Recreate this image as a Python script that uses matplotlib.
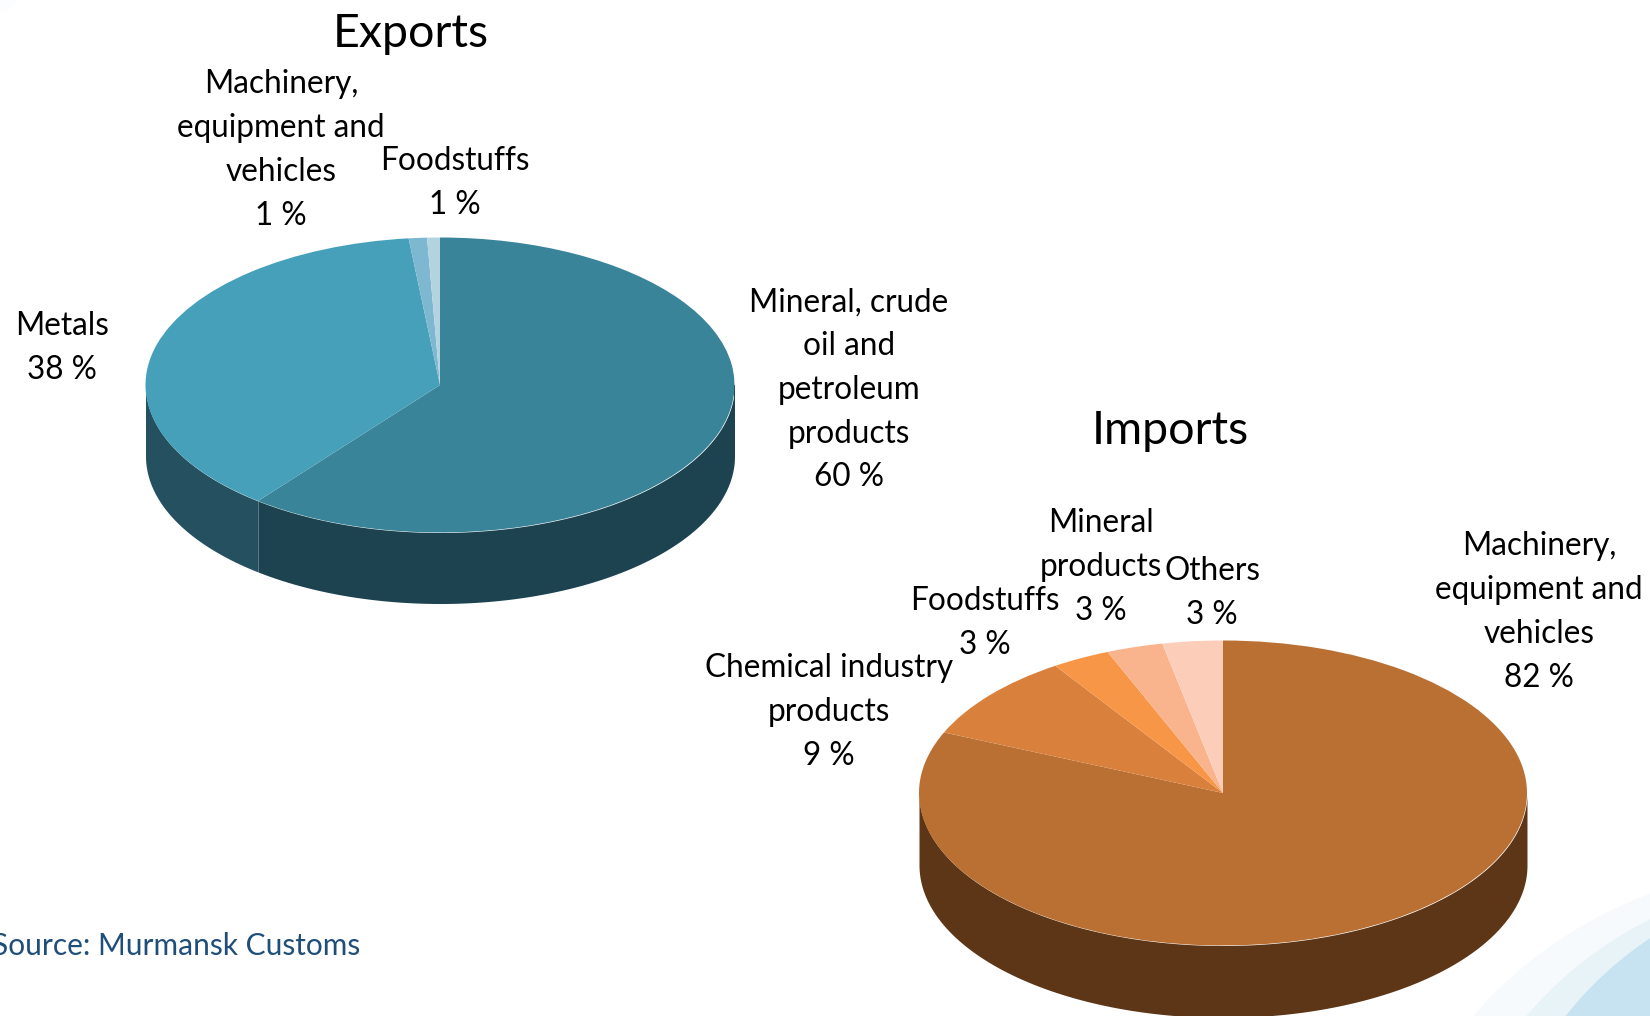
import matplotlib
matplotlib.use("Agg")
import matplotlib.pyplot as plt
import numpy as np
from matplotlib.patches import Circle

plt.rcParams["font.family"] = ["Lato", "DejaVu Sans"]

W, H = 1650, 1016

# values, the printed labels are rounded
export_values = [60.6, 37.7, 1.0, 0.7]
export_colors = ["#3a8499", "#47a0ba", "#7db8d0", "#b4d3e0"]
export_sides = ["#1e4350", "#25505f", "#4f7f90", "#7f9aa5"]
export_labels = ["Mineral, crude\noil and\npetroleum\nproducts\n60 %", "Metals\n38 %",
                 "Machinery,\nequipment and\nvehicles\n1 %", "Foodstuffs\n1 %"]
export_label_pos = [(849, 390), (62, 348), (281, 150), (455, 183)]

import_values = [81.5, 9.2, 3.1, 3.0, 3.2]
import_colors = ["#ba7033", "#da803d", "#f79646", "#f9b48d", "#fccdb8"]
import_sides = ["#5c3617", "#6d3f1e", "#7c4a23", "#7c5a46", "#7e665c"]
import_labels = ["Machinery,\nequipment and\nvehicles\n82 %", "Chemical industry\nproducts\n9 %",
                 "Foodstuffs\n3 %", "Mineral\nproducts\n3 %", "Others\n3 %"]
import_label_pos = [(1539, 612), (829, 712), (985, 623), (1101, 567), (1212, 593)]


def pie3d(fig, cx, cy, rx, ry, depth, values, colors, sides):
    # axes box is the ellipse plus the wall below it, in pixels
    ax = fig.add_axes([(cx - rx) / W, 1 - (cy + ry + depth) / H, 2 * rx / W, (2 * ry + depth) / H])
    d = depth / ry
    ax.pie(values, colors=colors, startangle=90, counterclock=False, radius=1,
           wedgeprops={"linewidth": 0, "zorder": 3})
    ends = 90 - np.cumsum(values) * 3.6
    starts = np.r_[90, ends[:-1]]
    for a0, a1, c in zip(starts, ends, sides):
        # the wall only shows on the lower half of the ellipse
        t = np.radians(np.linspace(a1, a0, 400)) % (2 * np.pi)
        t = t[t >= np.pi]
        if len(t):
            x, y = np.cos(t), np.sin(t)
            o = np.argsort(x)
            ax.fill_between(x[o], y[o] - d, y[o], color=c, lw=0, zorder=2)
    ax.add_patch(plt.Rectangle((-1, -d), 0.001, d, color=sides[1], lw=0, zorder=2))
    ax.add_patch(plt.Rectangle((0.999, -d), 0.001, d, color=sides[0], lw=0, zorder=2))
    ax.set_aspect("auto")
    ax.set_xlim(-1, 1)
    ax.set_ylim(-1 - d, 1)
    ax.patch.set_alpha(0)
    return ax


fig = plt.figure(figsize=(W / 100, H / 100), dpi=100)

bg = fig.add_axes([0, 0, 1, 1])
bg.set_xlim(0, W)
bg.set_ylim(H, 0)
bg.axis("off")
# pale swoosh in the corner of the slide
bg.add_patch(Circle((1800, 1300), 433, color="#f6fafc", lw=0))
bg.add_patch(Circle((1825, 1270), 392, color="#e8f3f8", lw=0))
bg.add_patch(Circle((1850, 1240), 362, color="#c7e3f1", lw=0))
bg.add_patch(Circle((-4, -14), 26, color="#fbfdfe", lw=0))

pie3d(fig, 440, 385, 294.5, 147.5, 71, export_values, export_colors, export_sides)
pie3d(fig, 1223, 793, 304, 152.5, 72, import_values, import_colors, import_sides)

top = fig.add_axes([0, 0, 1, 1])
top.set_xlim(0, W)
top.set_ylim(H, 0)
top.axis("off")
top.patch.set_alpha(0)

for labels, positions in [(export_labels, export_label_pos), (import_labels, import_label_pos)]:
    for s, (x, y) in zip(labels, positions):
        top.text(x, y, s, ha="center", va="center", fontsize=22.7, linespacing=1.57, color="black")

top.text(411, 34, "Exports", ha="center", va="center", fontsize=33.5, color="black")
top.text(1170, 431, "Imports", ha="center", va="center", fontsize=33.5, color="black")
top.text(-8, 946, "Source: Murmansk Customs", ha="left", va="center", fontsize=21.5, color="#1f4e79")

fig.savefig("out.png", dpi=100)
